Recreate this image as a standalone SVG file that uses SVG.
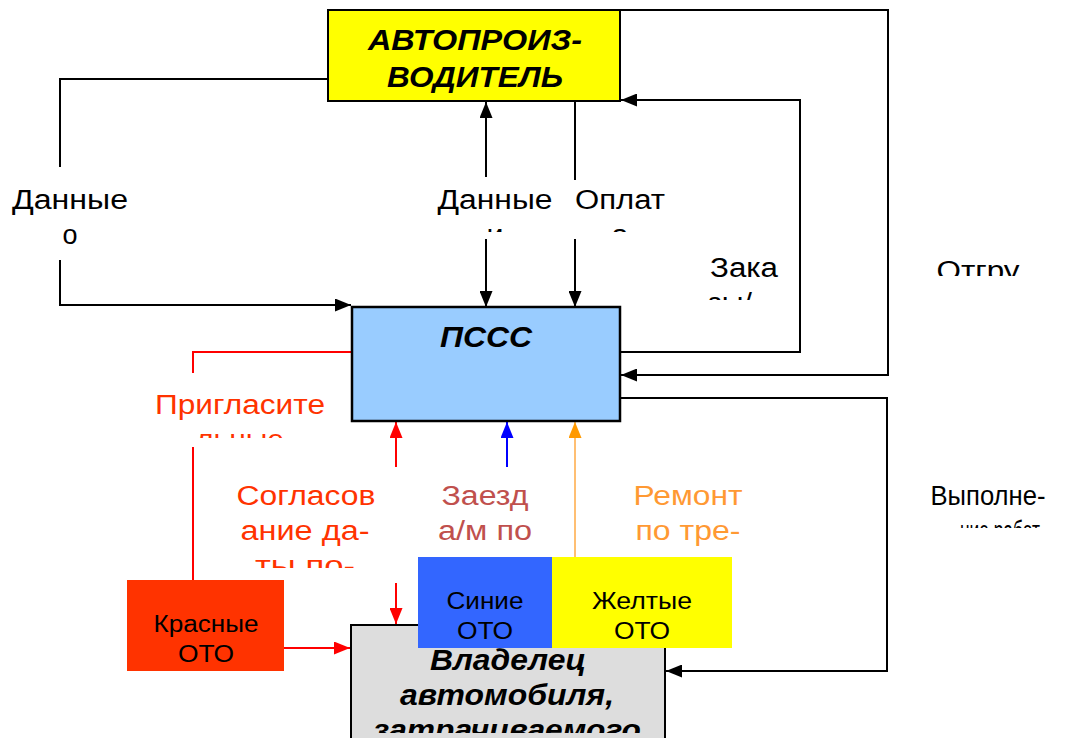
<svg xmlns="http://www.w3.org/2000/svg" width="1079" height="738" viewBox="0 0 1079 738">
  <style>
    .lbl { font-family: "Liberation Sans", Arial, sans-serif; font-size: 27px; text-anchor: middle; }
    .big { font-family: "Liberation Sans", Arial, sans-serif; font-size: 30px; font-weight: bold; font-style: italic; text-anchor: middle; fill: #000; }
    .oto { font-family: "Liberation Sans", Arial, sans-serif; font-size: 23px; text-anchor: middle; fill: #000; }
    .k { fill: none; stroke: #000; stroke-width: 2; }
    .r { fill: none; stroke: #ff0000; stroke-width: 2; }
    .b { fill: none; stroke: #0000ff; stroke-width: 2; }
    .o { fill: none; stroke: #ffaa44; stroke-width: 1.5; }
    .blk { fill: #000; }
    .red { fill: #ff3300; }
    .brn { fill: #c0504d; }
    .org { fill: #ff9933; }
  </style>
  <defs>
    <marker id="ak" viewBox="0 0 16 13" refX="16" refY="6.5" markerWidth="16" markerHeight="13" markerUnits="userSpaceOnUse" orient="auto">
      <path d="M0,0 L16,6.5 L0,13 z" fill="#000"/>
    </marker>
    <marker id="ar" viewBox="0 0 16 13" refX="16" refY="6.5" markerWidth="16" markerHeight="13" markerUnits="userSpaceOnUse" orient="auto">
      <path d="M0,0 L16,6.5 L0,13 z" fill="#ff0000"/>
    </marker>
    <marker id="ab" viewBox="0 0 16 13" refX="16" refY="6.5" markerWidth="16" markerHeight="13" markerUnits="userSpaceOnUse" orient="auto">
      <path d="M0,0 L16,6.5 L0,13 z" fill="#0000ff"/>
    </marker>
    <marker id="ao" viewBox="0 0 16 13" refX="16" refY="6.5" markerWidth="16" markerHeight="13" markerUnits="userSpaceOnUse" orient="auto">
      <path d="M0,0 L16,6.5 L0,13 z" fill="#ff9900"/>
    </marker>
    <!-- text frames that cut off overflowing lines -->
    <clipPath id="cMid"><rect x="420" y="170" width="260" height="62"/></clipPath>
    <clipPath id="cZaka"><rect x="690" y="240" width="110" height="60"/></clipPath>
    <clipPath id="cOtgru"><rect x="900" y="240" width="170" height="36"/></clipPath>
    <clipPath id="cVyp"><rect x="900" y="470" width="179" height="58"/></clipPath>
    <clipPath id="cPrig"><rect x="140" y="380" width="210" height="58"/></clipPath>
    <clipPath id="cSogl"><rect x="220" y="470" width="180" height="98"/></clipPath>
    <clipPath id="cOwner"><rect x="351" y="625" width="314" height="108"/></clipPath>
  </defs>

  <rect width="1079" height="738" fill="#fff"/>

  <!-- connectors -->
  <g id="connectors">
    <path class="k" d="M328,79 H60 V167"/>
    <path class="k" d="M60,260 V305 H351" marker-end="url(#ak)"/>
    <path class="k" d="M486,177 V102" marker-end="url(#ak)"/>
    <path class="k" d="M486,239 V307" marker-end="url(#ak)"/>
    <path class="k" d="M575,101 V180"/>
    <path class="k" d="M575,239 V307" marker-end="url(#ak)"/>
    <path class="k" d="M620,352 H800 V100 H621" marker-end="url(#ak)"/>
    <path class="k" d="M620,10 H888 V375 H621" marker-end="url(#ak)"/>
    <path class="k" d="M620,398 H887 V671 H666" marker-end="url(#ak)"/>
    <path class="r" d="M352,352 H193 V373"/>
    <path class="r" d="M193,447 V580"/>
    <path class="r" d="M396,467 V422" marker-end="url(#ar)"/>
    <path class="r" d="M396,583 V624" marker-end="url(#ar)"/>
    <path class="r" d="M284,648 H350" marker-end="url(#ar)"/>
    <path class="b" d="M507,467 V422" marker-end="url(#ab)"/>
    <path class="o" d="M575,557 V422" marker-end="url(#ao)"/>
  </g>

  <!-- connector labels -->
  <g id="labels">
    <text class="lbl blk" x="70" y="209" textLength="116" lengthAdjust="spacingAndGlyphs">Данные</text>
    <text class="lbl blk" x="70" y="244">о</text>
    <g clip-path="url(#cMid)">
      <text class="lbl blk" x="495" y="209" textLength="115" lengthAdjust="spacingAndGlyphs">Данные</text>
      <text class="lbl blk" x="495" y="244" textLength="17" lengthAdjust="spacingAndGlyphs">и</text>
      <text class="lbl blk" x="620" y="209" textLength="90" lengthAdjust="spacingAndGlyphs">Оплат</text>
      <text class="lbl blk" x="620" y="244" textLength="17" lengthAdjust="spacingAndGlyphs">а</text>
    </g>
    <g clip-path="url(#cZaka)">
      <text class="lbl blk" x="744" y="277" textLength="68" lengthAdjust="spacingAndGlyphs">Зака</text>
      <text class="lbl blk" x="730" y="312" textLength="44" lengthAdjust="spacingAndGlyphs">зы/</text>
    </g>
    <g clip-path="url(#cOtgru)">
      <text class="lbl blk" x="978" y="280" textLength="83" lengthAdjust="spacingAndGlyphs">Отгру</text>
    </g>
    <g clip-path="url(#cVyp)">
      <text class="lbl blk" x="988" y="505" textLength="115" lengthAdjust="spacingAndGlyphs">Выполне-</text>
      <text class="lbl blk" x="1000" y="540" textLength="80" lengthAdjust="spacingAndGlyphs">ние работ</text>
    </g>
    <g clip-path="url(#cPrig)">
      <text class="lbl red" x="240" y="414" textLength="170" lengthAdjust="spacingAndGlyphs">Пригласите</text>
      <text class="lbl red" x="240" y="449" textLength="88" lengthAdjust="spacingAndGlyphs">льные</text>
    </g>
    <g clip-path="url(#cSogl)">
      <text class="lbl red" x="306" y="505" textLength="139" lengthAdjust="spacingAndGlyphs">Согласов</text>
      <text class="lbl red" x="305" y="540" textLength="129" lengthAdjust="spacingAndGlyphs">ание да-</text>
      <text class="lbl red" x="305" y="575" textLength="100" lengthAdjust="spacingAndGlyphs">ты по-</text>
    </g>
    <text class="lbl brn" x="485" y="505" textLength="87" lengthAdjust="spacingAndGlyphs">Заезд</text>
    <text class="lbl brn" x="485" y="540" textLength="94" lengthAdjust="spacingAndGlyphs">а/м по</text>
    <text class="lbl org" x="688" y="505" textLength="109" lengthAdjust="spacingAndGlyphs">Ремонт</text>
    <text class="lbl org" x="688" y="540" textLength="105" lengthAdjust="spacingAndGlyphs">по тре-</text>
  </g>

  <!-- nodes -->
  <g id="maker">
    <rect x="328" y="10" width="292" height="91" fill="#ffff00" stroke="#000" stroke-width="2"/>
    <text class="big" x="475" y="50" textLength="214" lengthAdjust="spacingAndGlyphs">АВТОПРОИЗ-</text>
    <text class="big" x="475" y="87" textLength="176" lengthAdjust="spacingAndGlyphs">ВОДИТЕЛЬ</text>
  </g>

  <g id="pssс">
    <rect x="352" y="307" width="268" height="114" fill="#99ccff" stroke="#000" stroke-width="2.5"/>
    <text class="big" x="486" y="347" textLength="92" lengthAdjust="spacingAndGlyphs">ПССС</text>
  </g>

  <g id="owner">
    <rect x="351" y="625" width="314" height="125" fill="#dddddd" stroke="#000" stroke-width="2"/>
    <g clip-path="url(#cOwner)">
      <text class="big" x="508" y="670" textLength="156" lengthAdjust="spacingAndGlyphs">Владелец</text>
      <text class="big" x="507" y="705" textLength="214" lengthAdjust="spacingAndGlyphs">автомобиля,</text>
      <text class="big" x="507" y="740" textLength="268" lengthAdjust="spacingAndGlyphs">затрачиваемого</text>
    </g>
  </g>

  <g id="red-oto">
    <rect x="127" y="580" width="157" height="91" fill="#ff3300"/>
    <text class="oto" x="206" y="632" textLength="105" lengthAdjust="spacingAndGlyphs">Красные</text>
    <text class="oto" x="206" y="662" textLength="56" lengthAdjust="spacingAndGlyphs">ОТО</text>
  </g>

  <g id="blue-oto">
    <rect x="418" y="557" width="134" height="91" fill="#3366ff"/>
    <text class="oto" x="485" y="609" textLength="77" lengthAdjust="spacingAndGlyphs">Синие</text>
    <text class="oto" x="485" y="639" textLength="56" lengthAdjust="spacingAndGlyphs">ОТО</text>
  </g>

  <g id="yellow-oto">
    <rect x="552" y="557" width="180" height="91" fill="#ffff00"/>
    <text class="oto" x="642" y="609" textLength="100" lengthAdjust="spacingAndGlyphs">Желтые</text>
    <text class="oto" x="642" y="639" textLength="56" lengthAdjust="spacingAndGlyphs">ОТО</text>
  </g>
</svg>
